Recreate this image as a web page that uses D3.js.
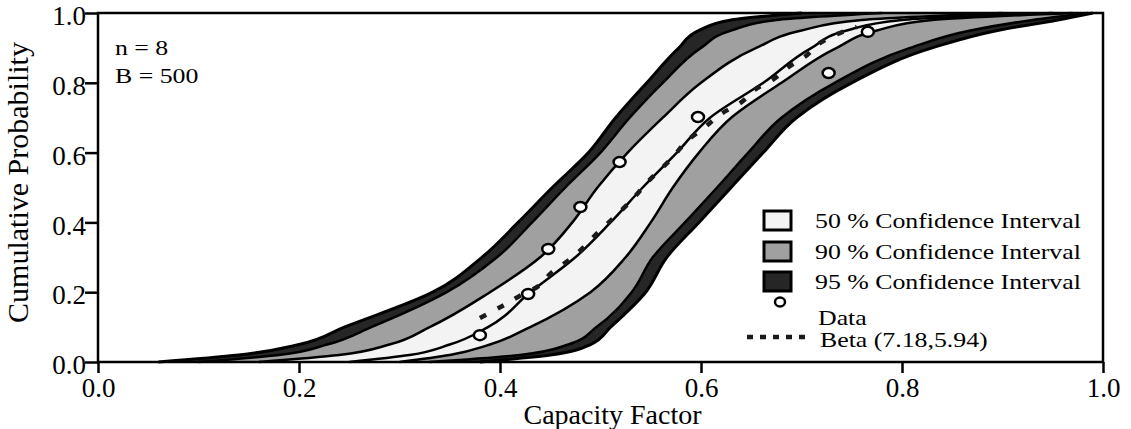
<!DOCTYPE html>
<html>
<head>
<meta charset="utf-8">
<script src="https://cdn.jsdelivr.net/npm/d3@7"></script>
<style>
  body { margin: 0; background: #fff; }
  svg text { font-family: "Liberation Serif", "Times New Roman", serif; fill: #000; }
</style>
</head>
<body>
<div id="chart"></div>
<script>
// probability levels at which the band edges were read (x value of each curve)
const probLevels = [0, 0.02, 0.05, 0.1, 0.2, 0.3, 0.4, 0.5, 0.6, 0.7, 0.8, 0.9, 0.95, 0.98, 1.0];
const upper95 = [0.06, 0.14, 0.20, 0.245, 0.333, 0.382, 0.418, 0.452, 0.488, 0.515, 0.546, 0.578, 0.598, 0.63, 0.70];
const upper90 = [0.10, 0.18, 0.228, 0.272, 0.347, 0.397, 0.432, 0.465, 0.50, 0.529, 0.562, 0.60, 0.63, 0.675, 0.78];
const upper50 = [0.16, 0.24, 0.29, 0.33, 0.39, 0.44, 0.472, 0.497, 0.527, 0.562, 0.60, 0.655, 0.70, 0.76, 0.90];
const median  = [0.25, 0.31, 0.35, 0.388, 0.43, 0.475, 0.51, 0.542, 0.576, 0.609, 0.662, 0.71, 0.745, 0.80, 0.95];
const lower50 = [0.30, 0.35, 0.39, 0.43, 0.49, 0.525, 0.55, 0.572, 0.598, 0.63, 0.68, 0.735, 0.775, 0.83, 0.97];
const lower90 = [0.33, 0.42, 0.468, 0.496, 0.531, 0.552, 0.584, 0.616, 0.647, 0.68, 0.733, 0.808, 0.868, 0.93, 0.985];
const lower95 = [0.38, 0.45, 0.49, 0.51, 0.545, 0.566, 0.598, 0.63, 0.662, 0.695, 0.75, 0.83, 0.895, 0.955, 0.99];

// observed capacity factors and plotting positions
const dataX = [0.380, 0.428, 0.448, 0.480, 0.519, 0.597, 0.727, 0.766];
const dataP = [0.077, 0.195, 0.324, 0.444, 0.573, 0.702, 0.828, 0.946];

// fitted beta cdf
const betaX = [0.380, 0.402, 0.420, 0.437, 0.452, 0.470, 0.500, 0.516, 0.531, 0.546, 0.572, 0.587, 0.604, 0.621, 0.639, 0.656, 0.671, 0.687, 0.703, 0.720, 0.741, 0.755];
const betaP = [0.126, 0.160, 0.190, 0.215, 0.258, 0.295, 0.378, 0.421, 0.464, 0.513, 0.587, 0.636, 0.673, 0.713, 0.742, 0.785, 0.808, 0.845, 0.874, 0.917, 0.946, 0.960];

const xTicks = [0, 0.2, 0.4, 0.6, 0.8, 1.0];
const yTicks = [0, 0.2, 0.4, 0.6, 0.8, 1.0];
const legendLabels = ['50 % Confidence Interval', '90 % Confidence Interval', '95 % Confidence Interval', 'Data', 'Beta (7.18,5.94)'];
const infoLines = ['n = 8', 'B = 500'];

const width = 1131, height = 429;
const x = d3.scaleLinear().domain([0, 1]).range([98, 1103]);
const y = d3.scaleLinear().domain([0, 1]).range([362, 13]);

const colDark = '#262626', colGray = '#a0a0a0', colLight = '#f3f3f3';
const wide = 1.23; // the small labels are printed wider than normal

const svg = d3.select('#chart').append('svg')
  .attr('width', width).attr('height', height);

const rows = probLevels.map((p, i) => ({ p, a: upper95[i], b: upper90[i], c: upper50[i], m: median[i], d: lower50[i], e: lower90[i], f: lower95[i] }));

// bands, drawn as areas between two curves (x as a function of p)
const band = (k0, k1) => d3.area()
  .y(d => y(d.p)).x0(d => x(d[k0])).x1(d => x(d[k1]))
  .curve(d3.curveMonotoneY);

const bands = [
  ['a', 'b', colDark], ['b', 'c', colGray], ['c', 'd', colLight],
  ['d', 'e', colGray], ['e', 'f', colDark]
];
bands.forEach(([k0, k1, col]) => {
  svg.append('path').datum(rows)
    .attr('d', band(k0, k1))
    .attr('fill', col).attr('stroke', 'none');
});

// band edges and median
const edge = k => d3.line().y(d => y(d.p)).x(d => x(d[k])).curve(d3.curveMonotoneY);
['a', 'b', 'c', 'm', 'd', 'e', 'f'].forEach(k => {
  svg.append('path').datum(rows)
    .attr('d', edge(k))
    .attr('fill', 'none').attr('stroke', '#000')
    .attr('stroke-width', (k === 'a' || k === 'f') ? 3 : 2.5);
});

// beta fit
const betaPts = betaX.map((v, i) => ({ x: v, p: betaP[i] }));
svg.append('path').datum(betaPts)
  .attr('d', d3.line().x(d => x(d.x)).y(d => y(d.p)).curve(d3.curveMonotoneY))
  .attr('fill', 'none').attr('stroke', '#1a1a1a')
  .attr('stroke-width', 4.5).attr('stroke-dasharray', '7,13');

// data points
svg.selectAll('.pt').data(dataX).join('ellipse')
  .attr('class', 'pt')
  .attr('cx', d => x(d)).attr('cy', (d, i) => y(dataP[i]))
  .attr('rx', 6).attr('ry', 5)
  .attr('fill', '#fff').attr('stroke', '#000').attr('stroke-width', 2.5);

// axes
const xAxis = svg.append('g')
  .attr('transform', `translate(0,${y(0)})`)
  .call(d3.axisBottom(x).tickValues(xTicks).tickFormat(d3.format('.1f')).tickSize(11).tickPadding(5));
const yAxis = svg.append('g')
  .attr('transform', `translate(${x(0)},0)`)
  .call(d3.axisLeft(y).tickValues(yTicks).tickFormat(d3.format('.1f')).tickSize(13).tickPadding(-1));
[xAxis, yAxis].forEach(g => {
  g.select('.domain').remove();
  g.selectAll('.tick line').attr('stroke', '#000').attr('stroke-width', 2.5);
  g.selectAll('.tick text').attr('font-size', 27)
    .style('font-family', '"Liberation Serif", "Times New Roman", serif');
});
yAxis.selectAll('.tick text').attr('y', 3);

// frame
svg.append('rect')
  .attr('x', x(0)).attr('y', y(1))
  .attr('width', x(1) - x(0)).attr('height', y(0) - y(1))
  .attr('fill', 'none').attr('stroke', '#000').attr('stroke-width', 2.5);

// axis titles
svg.append('text')
  .attr('x', x(0.5) + 12).attr('y', 424)
  .attr('text-anchor', 'middle').attr('font-size', 28)
  .text('Capacity Factor');
svg.append('text')
  .attr('transform', `translate(28,${y(0.5) - 5}) rotate(-90)`)
  .attr('text-anchor', 'middle').attr('font-size', 30)
  .text('Cumulative Probability');

// n and B
svg.selectAll('.info').data(infoLines).join('text')
  .attr('class', 'info')
  .attr('transform', (d, i) => `translate(115,${55 + i * 28}) scale(${wide},1)`)
  .attr('font-size', 21)
  .text(d => d);

// legend
const lg = svg.append('g');
const boxCols = [colLight, colGray, colDark];
const rowY = [221, 252, 282];
const label = (tx, ty, t) => lg.append('text')
  .attr('transform', `translate(${tx},${ty}) scale(${wide},1)`)
  .attr('font-size', 21)
  .text(t);
boxCols.forEach((c, i) => {
  lg.append('rect')
    .attr('x', 764).attr('y', rowY[i] - 10)
    .attr('width', 27).attr('height', 19)
    .attr('fill', c).attr('stroke', '#000').attr('stroke-width', 3);
  label(815, rowY[i] + 7, legendLabels[i]);
});
lg.append('ellipse')
  .attr('cx', 780).attr('cy', 302).attr('rx', 5).attr('ry', 4.5)
  .attr('fill', '#fff').attr('stroke', '#000').attr('stroke-width', 2.5);
label(818, 325, legendLabels[3]);
lg.append('line')
  .attr('x1', 747).attr('x2', 808).attr('y1', 337).attr('y2', 337)
  .attr('stroke', '#1a1a1a').attr('stroke-width', 4.5).attr('stroke-dasharray', '6,7');
label(820, 347, legendLabels[4]);
</script>
</body>
</html>
